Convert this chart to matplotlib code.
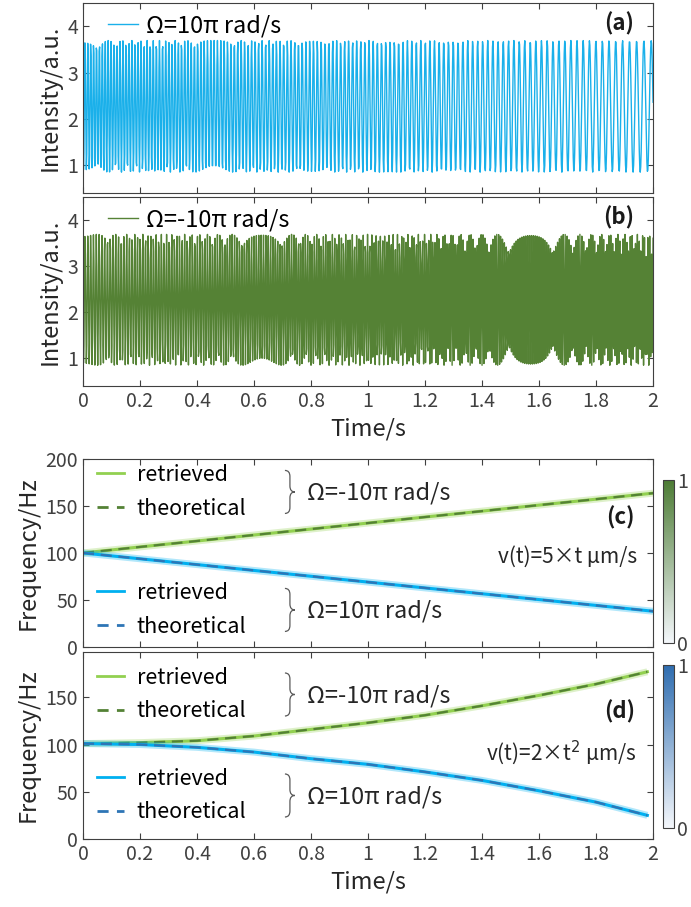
import numpy as np
import matplotlib
matplotlib.use('Agg')
import matplotlib.pyplot as plt
from matplotlib.lines import Line2D
from matplotlib.path import Path
from matplotlib.patches import PathPatch
from matplotlib.transforms import ScaledTranslation
from matplotlib.colors import LinearSegmentedColormap, Normalize
from matplotlib.cm import ScalarMappable

plt.rcParams['font.family'] = ['Noto Sans CJK SC', 'DejaVu Sans']
plt.rcParams['axes.edgecolor'] = '#404040'
plt.rcParams['xtick.color'] = '#404040'
plt.rcParams['ytick.color'] = '#404040'
plt.rcParams['xtick.labelcolor'] = '#404040'
plt.rcParams['ytick.labelcolor'] = '#404040'
plt.rcParams['axes.labelcolor'] = '#262626'

# frequency (c) and (d), Hz
t_knots = [0, 0.2, 0.4, 0.6, 0.8, 1.0, 1.2, 1.4, 1.6, 1.8, 2.0]
f_up_lin = [100, 106.4, 112.7, 119.1, 125.4, 131.8, 138.2, 144.5, 150.9, 157.2, 163.6]
f_down_lin = [100, 93.8, 87.6, 81.4, 75.2, 69.0, 62.8, 56.6, 50.4, 44.2, 38.0]
t_knots_q = [0, 0.2, 0.4, 0.6, 0.8, 1.0, 1.2, 1.4, 1.6, 1.8, 1.98]
f_up_quad = [101, 102, 104, 109, 116, 123, 131, 141, 152, 164, 177]
f_down_quad = [101, 100, 97, 92, 85, 79, 71, 62, 51, 39, 25]

# intensity trace settings (a) and (b)
fs = 600            # samples per second
i_mean = 2.27
i_amp = 1.42
phase0 = np.pi / 4

green_light = '#92d050'
green_dark = '#548235'
blue_light = '#00b0f0'
blue_dark = '#2e75b6'
trace_blue = '#1ab0ea'
trace_green = '#558235'


def trace(f_knots):
    t = np.arange(0, 2 + 1 / fs, 1 / fs)
    f = np.interp(t, t_knots, f_knots)
    phase = phase0 + 2 * np.pi * np.cumsum(f) / fs
    return t, i_mean + i_amp * np.cos(phase)


def style(ax):
    ax.tick_params(direction='in', top=True, right=True, labelsize=14, length=4)
    ax.set_xlim(0, 2)
    ax.set_xticks(np.arange(0, 2.01, 0.2))
    ax.set_xticklabels(['0', '0.2', '0.4', '0.6', '0.8', '1', '1.2', '1.4', '1.6', '1.8', '2'])


def brace(ax, x, y, w=0.10, h=0.43):
    # thin right-facing curly brace, size in inches, centred at axes coords (x, y)
    verts = [(-w / 2, h / 2), (0, h / 2), (0, h / 2 - 0.06),
             (0, 0.06), (0, 0), (w / 2, 0),
             (0, 0), (0, -0.06),
             (0, -h / 2 + 0.06), (0, -h / 2), (-w / 2, -h / 2)]
    codes = [Path.MOVETO, Path.CURVE3, Path.CURVE3,
             Path.LINETO, Path.CURVE3, Path.CURVE3,
             Path.CURVE3, Path.CURVE3,
             Path.LINETO, Path.CURVE3, Path.CURVE3]
    tr = fig.dpi_scale_trans + ScaledTranslation(x, y, ax.transAxes)
    ax.add_patch(PathPatch(Path(verts, codes), transform=tr, fill=False,
                           edgecolor='#5a5a5a', lw=0.9, clip_on=False))


fig = plt.figure(figsize=(6.91, 9.07), dpi=100)
ax_a = fig.add_axes([0.1201, 0.7872, 0.825, 0.2095])
ax_b = fig.add_axes([0.1201, 0.5744, 0.825, 0.2084])
ax_c = fig.add_axes([0.1201, 0.2867, 0.825, 0.2073])
ax_d = fig.add_axes([0.1201, 0.0750, 0.825, 0.2062])

# (a) and (b): intensity traces
for ax, fk, col, lab, tag in [(ax_a, f_down_lin, trace_blue, 'Ω=10π rad/s', '(a)'),
                              (ax_b, f_up_lin, trace_green, 'Ω=-10π rad/s', '(b)')]:
    t, y = trace(fk)
    ax.plot(t, y, color=col, lw=1.0, label=lab)
    style(ax)
    ax.set_ylim(0.4, 4.5)
    ax.set_yticks([1, 2, 3, 4])
    ax.set_ylabel('Intensity/a.u.', fontsize=17)
    ax.legend(loc='center left', bbox_to_anchor=(0.043, 0.88), frameon=False,
              fontsize=17, handlelength=1.3, handletextpad=0.35,
              borderpad=0, borderaxespad=0)
    ax.text(0.967, 0.89, tag, transform=ax.transAxes, ha='right', va='center',
            fontsize=16, fontweight='bold', color='#1a1a1a')
ax_a.set_xticklabels([])
ax_b.set_xlabel('Time/s', fontsize=17)

# (c) and (d): retrieved vs theoretical frequency
cm_green = LinearSegmentedColormap.from_list('g', ['#f4f7fb', '#4d7c35'])
cm_blue = LinearSegmentedColormap.from_list('b', ['#f4f7fb', '#2f6db0'])

panels = [(ax_c, t_knots, f_up_lin, f_down_lin, '(c)', 'v(t)=5×t μm/s', cm_green,
           [0.2911, 0.1797], [0.926, 0.723, 0.293, 0.101], 0.686, 0.479),
          (ax_d, t_knots_q, f_up_quad, f_down_quad, '(d)', 'v(t)=2×t$^2$ μm/s', cm_blue,
           [0.0871, 0.1797], [0.866, 0.679, 0.326, 0.139], 0.679, 0.46)]
for ax, tk, fu, fd, tag, vtxt, cmap, cb_pos, rows, tag_y, v_y in panels:
    for f, cl, cd in [(fu, green_light, green_dark), (fd, blue_light, blue_dark)]:
        ax.plot(tk, f, color=cl, lw=5, alpha=0.3, solid_capstyle='butt')
        ax.plot(tk, f, color=cl, lw=2.2)
        ax.plot(tk, f, color=cd, lw=1.6, ls=(0, (5, 3)))
    style(ax)
    ax.set_ylim(0, 200 if ax is ax_c else 198)
    ax.set_yticks([0, 50, 100, 150, 200] if ax is ax_c else [0, 50, 100, 150])
    ax.set_ylabel('Frequency/Hz', fontsize=17)

    h_g = [Line2D([], [], color=green_light, lw=2), Line2D([], [], color=green_dark, lw=2, ls=(0, (4, 3)))]
    h_b = [Line2D([], [], color=blue_light, lw=2), Line2D([], [], color=blue_dark, lw=2, ls=(0, (4, 3)))]
    groups = [(h_g, rows[0], rows[1], 'Ω=-10π rad/s'), (h_b, rows[2], rows[3], 'Ω=10π rad/s')]
    for i, (hs, r0, r1, om) in enumerate(groups):
        leg = ax.legend(handles=hs, labels=['retrieved', 'theoretical'], loc='center left',
                        bbox_to_anchor=(0.0246, (r0 + r1) / 2), frameon=False, fontsize=15.5,
                        handlelength=1.25, handletextpad=0.6, labelspacing=0.55,
                        borderpad=0, borderaxespad=0)
        if i == 0:
            ax.add_artist(leg)
        brace(ax, 0.363, (r0 + r1) / 2)
        ax.text(0.393, (r0 + r1) / 2 - 0.008, om, transform=ax.transAxes, ha='left',
                va='center', fontsize=17, color='#262626')
    ax.text(0.968, tag_y, tag, transform=ax.transAxes, ha='right', va='center',
            fontsize=16, fontweight='bold', color='#1a1a1a')
    ax.text(0.972, v_y, vtxt, transform=ax.transAxes, ha='right', va='center',
            fontsize=15, color='#262626')

    cax = fig.add_axes([0.9595, cb_pos[0], 0.0159, cb_pos[1]])
    cb = fig.colorbar(ScalarMappable(norm=Normalize(0, 1), cmap=cmap), cax=cax)
    cb.set_ticks([0, 1])
    cb.ax.tick_params(length=0, labelsize=14, pad=2)
    cb.outline.set_edgecolor('#404040')

ax_c.set_xticklabels([])
ax_d.set_xlabel('Time/s', fontsize=17)

fig.savefig('out.png', dpi=100)
